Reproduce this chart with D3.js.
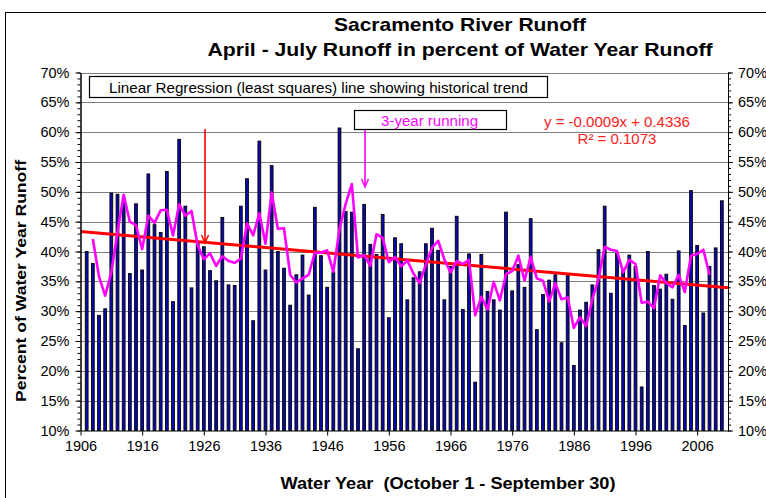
<!DOCTYPE html>
<html>
<head>
<meta charset="utf-8">
<script src="https://cdn.jsdelivr.net/npm/d3@7"></script>
<style>
  html, body { margin: 0; padding: 0; background: #fff; }
  svg { display: block; font-family: Arial, "Liberation Sans", sans-serif; }
</style>
</head>
<body>
<svg id="chart" width="766" height="498"></svg>
<script>
// April-July runoff as percent of water year runoff, one bar per water year
var years = d3.range(1907, 2011);
var runoffPct = [
    40.0, 38.0, 29.3, 30.4, 49.8, 49.6, 49.0, 36.3, 48.0, 36.9,
    53.0, 44.5, 43.2, 53.4, 31.6, 58.8, 47.6, 33.9, 41.5, 40.8,
    36.8, 35.1, 45.7, 34.4, 34.3, 47.6, 52.2, 28.4, 58.5, 36.9,
    54.4, 40.0, 37.2, 31.0, 36.1, 39.4, 32.7, 47.4, 39.3, 34.0,
    36.6, 60.7, 46.7, 46.6, 23.7, 47.9, 41.2, 39.5, 46.2, 28.9,
    42.3, 41.3, 31.9, 35.6, 36.6, 41.3, 43.9, 40.2, 31.9, 37.5,
    45.9, 30.3, 39.6, 18.1, 39.5, 33.3, 31.9, 30.2, 46.6, 33.4,
    37.8, 34.0, 45.5, 26.9, 32.8, 35.2, 36.1, 24.7, 36.0, 20.9,
    30.2, 31.5, 34.4, 40.3, 47.6, 33.0, 39.7, 36.8, 39.4, 37.5,
    17.3, 40.0, 34.3, 33.7, 36.2, 32.0, 40.1, 27.6, 50.2, 41.0,
    29.7, 37.5, 40.6, 48.5
];

// 3-year running line (magenta), first point is 1908
var runningStart = 1908;
var running3 = [
    42.1, 35.8, 32.6, 36.5, 43.3, 49.5, 45.0, 44.4, 40.4, 46.0,
    44.8, 46.9, 47.0, 42.7, 47.9, 46.0, 46.8, 41.0, 38.7, 39.7,
    37.6, 39.2, 38.4, 38.1, 38.8, 44.7, 42.7, 46.4, 41.3, 49.9,
    43.8, 43.9, 36.1, 34.8, 35.5, 36.1, 39.8, 39.8, 40.2, 36.6,
    43.8, 48.0, 51.3, 39.0, 39.4, 37.6, 42.9, 42.3, 38.2, 39.1,
    37.5, 38.5, 36.3, 34.7, 37.8, 40.6, 41.8, 38.7, 36.5, 38.4,
    37.9, 38.6, 29.3, 32.4, 30.3, 34.9, 31.8, 36.2, 36.7, 39.3,
    35.1, 39.1, 35.5, 35.1, 31.6, 34.7, 32.0, 32.3, 27.2, 29.0,
    27.5, 32.0, 35.4, 40.8, 40.3, 40.1, 36.5, 38.6, 37.9, 31.4,
    31.6, 30.5, 36.0, 34.7, 34.0, 36.1, 33.2, 39.3, 39.6, 40.3,
    36.1
];

// least squares fit shown in the chart, x = 1 for the first year
var trendSlope = -0.0009;
var trendIntercept = 0.4336;
var trendText = ["y = -0.0009x + 0.4336", "R\u00b2 = 0.1073"];

var xTicks = [1906, 1916, 1926, 1936, 1946, 1956, 1966, 1976, 1986, 1996, 2006];
var yTicks = [10, 15, 20, 25, 30, 35, 40, 45, 50, 55, 60, 65, 70];

var svg = d3.select("#chart");
var plotLeft = 80.5, plotRight = 728, plotTop = 72.5, plotBottom = 430.5;

var x = d3.scaleLinear().domain([1906, 2011]).range([plotLeft, plotRight]);
var y = d3.scaleLinear().domain([10, 70]).range([plotBottom, plotTop]);

// outer chart border
svg.append("rect")
    .attr("x", 5.5).attr("y", 12.5)
    .attr("width", 800).attr("height", 600)
    .attr("fill", "none").attr("stroke", "#000").attr("stroke-width", 1);

// horizontal gridlines
svg.append("g").selectAll("line")
    .data(yTicks.slice(1))
    .join("line")
    .attr("x1", plotLeft).attr("x2", plotRight)
    .attr("y1", function(d){ return Math.round(y(d)) + 0.5; })
    .attr("y2", function(d){ return Math.round(y(d)) + 0.5; })
    .attr("stroke", "#808080").attr("stroke-width", 1);

// bars
svg.append("g").selectAll("rect")
    .data(runoffPct)
    .join("rect")
    .attr("x", function(d, i){ return x(years[i]) - 1.4; })
    .attr("y", function(d){ return y(d); })
    .attr("width", 2.8)
    .attr("height", function(d){ return y(10) - y(d); })
    .attr("fill", "#0a0ab0")
    .attr("stroke", "#000")
    .attr("stroke-width", 0.9);

// trend line across the whole plot
var trendYears = [1906, 2011];
svg.append("line")
    .attr("x1", x(trendYears[0])).attr("x2", x(trendYears[1]))
    .attr("y1", y((trendIntercept + trendSlope * (trendYears[0] - 1906)) * 100))
    .attr("y2", y((trendIntercept + trendSlope * (trendYears[1] - 1906)) * 100))
    .attr("stroke", "#ff0000").attr("stroke-width", 3);

// 3-year running line
var runLine = d3.line()
    .x(function(d, i){ return x(runningStart + i); })
    .y(function(d){ return y(d); });
svg.append("path")
    .datum(running3)
    .attr("d", runLine)
    .attr("fill", "none")
    .attr("stroke", "#ff00ff")
    .attr("stroke-width", 2.6)
    .attr("stroke-linejoin", "round");

// axes
var yMinor = d3.range(10, 71, 1);
var yLeft = svg.append("g")
    .attr("transform", "translate(" + plotLeft + ",0)")
    .call(d3.axisLeft(y).tickValues(yTicks).tickSize(5).tickSizeOuter(0)
        .tickFormat(function(d){ return d + "%"; }));
var yRight = svg.append("g")
    .attr("transform", "translate(" + plotRight + ",0)")
    .call(d3.axisRight(y).tickValues(yTicks).tickSize(5).tickSizeOuter(0)
        .tickFormat(function(d){ return d + "%"; }));
svg.append("g")
    .attr("transform", "translate(" + plotLeft + ",0)")
    .call(d3.axisLeft(y).tickValues(yMinor).tickSize(3).tickSizeOuter(0).tickFormat(""));
svg.append("g")
    .attr("transform", "translate(" + plotRight + ",0)")
    .call(d3.axisRight(y).tickValues(yMinor).tickSize(3).tickSizeOuter(0).tickFormat(""));
var xAxis = svg.append("g")
    .attr("transform", "translate(0," + plotBottom + ")")
    .call(d3.axisBottom(x).tickValues(xTicks).tickSize(5).tickSizeOuter(0)
        .tickFormat(d3.format("d")));

svg.selectAll(".domain").attr("stroke", "#000");
svg.selectAll(".tick line").attr("stroke", "#000");
svg.selectAll(".tick text")
    .attr("font-family", "Arial, 'Liberation Sans', sans-serif")
    .attr("font-size", 14.5)
    .attr("fill", "#000");
yLeft.selectAll(".tick text").attr("x", -11);
yRight.selectAll(".tick text").attr("x", 10);
xAxis.selectAll(".tick text").attr("y", 10);

// titles
svg.append("text")
    .attr("x", 460).attr("y", 31)
    .attr("text-anchor", "middle")
    .attr("font-size", 19).attr("font-weight", "bold")
    .attr("textLength", 252).attr("lengthAdjust", "spacingAndGlyphs")
    .text("Sacramento River Runoff");
svg.append("text")
    .attr("x", 460).attr("y", 56)
    .attr("text-anchor", "middle")
    .attr("font-size", 19).attr("font-weight", "bold")
    .attr("textLength", 505).attr("lengthAdjust", "spacingAndGlyphs")
    .text("April - July Runoff in percent of Water Year Runoff");
svg.append("text")
    .attr("transform", "translate(26,281) rotate(-90)")
    .attr("text-anchor", "middle")
    .attr("font-size", 15).attr("font-weight", "bold")
    .attr("textLength", 242).attr("lengthAdjust", "spacingAndGlyphs")
    .text("Percent of Water Year Runoff");
svg.append("text")
    .attr("x", 448).attr("y", 489)
    .attr("text-anchor", "middle")
    .attr("font-size", 16).attr("font-weight", "bold")
    .attr("textLength", 335).attr("lengthAdjust", "spacingAndGlyphs")
    .attr("xml:space", "preserve")
    .text("Water Year  (October 1 - September 30)");

// legend box for the regression line
svg.append("rect")
    .attr("x", 89.5).attr("y", 76.5).attr("width", 458).attr("height", 21)
    .attr("fill", "#fff").attr("stroke", "#000").attr("stroke-width", 1.2);
svg.append("text")
    .attr("x", 109).attr("y", 92.5)
    .attr("font-size", 14.5)
    .attr("textLength", 419).attr("lengthAdjust", "spacingAndGlyphs")
    .text("Linear Regression (least squares) line showing historical trend");

// label box for the running line
svg.append("rect")
    .attr("x", 354.5).attr("y", 110.5).attr("width", 152).attr("height", 19)
    .attr("fill", "#fff").attr("stroke", "#000").attr("stroke-width", 1.2);
svg.append("text")
    .attr("x", 381).attr("y", 125.5)
    .attr("font-size", 14.5).attr("fill", "#ff00ff")
    .attr("textLength", 97).attr("lengthAdjust", "spacingAndGlyphs")
    .text("3-year running");

// regression equation
svg.selectAll("text.eq")
    .data(trendText)
    .join("text")
    .attr("class", "eq")
    .attr("x", 617)
    .attr("y", function(d, i){ return 127 + i * 17; })
    .attr("text-anchor", "middle")
    .attr("font-size", 15).attr("fill", "#ff2020")
    .text(function(d){ return d; });

// arrows
var arrows = [
    {year: 1926.2, from: 129, to: 243, color: "#ff0000"},
    {year: 1952.2, from: 130, to: 187, color: "#ff00ff"}
];
arrows.forEach(function(a){
    var ax = Math.round(x(a.year));
    svg.append("line")
        .attr("x1", ax).attr("x2", ax)
        .attr("y1", a.from).attr("y2", a.to)
        .attr("stroke", a.color).attr("stroke-width", 1.6);
    svg.append("path")
        .attr("d", "M" + (ax - 3.5) + "," + (a.to - 8) + "L" + ax + "," + a.to + "L" + (ax + 3.5) + "," + (a.to - 8))
        .attr("fill", "none").attr("stroke", a.color).attr("stroke-width", 1.4);
});
</script>
</body>
</html>
